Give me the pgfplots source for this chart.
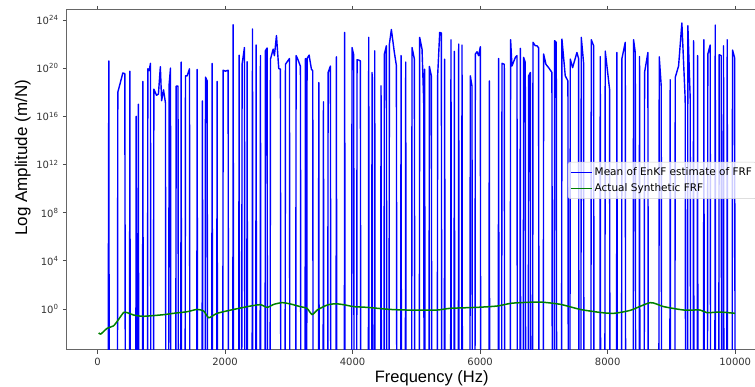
\documentclass[border=0pt]{standalone}
\usepackage{pgfplots}
\usepackage{pgfplotstable}
\pgfplotsset{compat=1.18}
\usepackage{fontspec}
\setmainfont{DejaVu Sans}
\newfontfamily\labelfont{Liberation Sans}
\definecolor{mplblue}{RGB}{0,0,255}
\definecolor{mplgreen}{RGB}{0,128,0}

% Mean of the EnKF estimate (values far below the axis are drawn as 1e-10)
\pgfplotstableread{
f v
165 1e-10
177 4.0e20
183 1e-10
312 1e-10
318 1.0e18
397 4.0e19
428 3.5e19
436 1e-10
501 1e-10
507 5.6e19
513 1e-10
600 1e-10
606 1.0e16
614 1e-10
634 1e-10
640 1.0e17
646 1e-10
705 1e-10
711 7.9e18
717 1e-10
783 1e-10
789 8.9e19
810 6.3e19
830 2.5e20
836 1e-10
877 1e-10
883 1.8e18
925 5.6e17
955 7.1e17
985 1.3e20
1005 2.0e17
1035 1.6e18
1065 1.3e17
1071 1e-10
1116 1e-10
1122 4.0e18
1144 1.0e20
1150 1e-10
1227 1e-10
1233 3.2e18
1262 3.2e18
1268 1e-10
1305 1e-10
1311 3.2e20
1317 1e-10
1373 1e-10
1379 2.3e19
1405 2.3e19
1442 8.9e19
1448 1e-10
1556 1e-10
1562 7.9e19
1568 1e-10
1639 1e-10
1645 1.9e17
1651 1e-10
1687 1e-10
1693 1.8e19
1719 8.9e18
1725 1e-10
1791 1e-10
1797 2.5e20
1803 1e-10
1869 1e-10
1875 7.9e18
1881 1e-10
1964 1e-10
1970 6.8e19
2006 5.6e19
2048 6.8e19
2054 1e-10
2121 1e-10
2127 4.0e23
2133 1e-10
2214 1e-10
2220 1.2e21
2226 1e-10
2261 1e-10
2267 2.1e20
2304 5.2e21
2310 1e-10
2340 1e-10
2346 3.4e20
2352 1e-10
2424 1e-10
2430 1.8e23
2436 1e-10
2481 1e-10
2487 8.3e21
2493 1e-10
2549 1e-10
2555 1.1e21
2561 1e-10
2627 1e-10
2633 2.8e21
2659 4.7e21
2665 1e-10
2706 1e-10
2712 5.6e20
2754 3.8e21
2774 1.1e21
2806 5.0e22
2842 9.3e19
2868 8.3e19
2874 1e-10
2941 1e-10
2947 2.1e20
3010 6.3e20
3016 1e-10
3108 1e-10
3114 1.1e21
3140 5.6e20
3182 1.4e20
3188 1e-10
3254 1e-10
3260 6.3e20
3266 1e-10
3280 1e-10
3286 6.3e20
3318 1.2e21
3354 8.3e19
3375 6.0e19
3381 1e-10
3464 1e-10
3470 6.3e18
3476 1e-10
3537 1e-10
3543 1.6e17
3549 1e-10
3610 1e-10
3616 4.4e19
3652 1.5e20
3658 1e-10
3740 1e-10
3746 8.7e20
3752 1e-10
3870 1e-10
3876 9.3e22
3882 1e-10
3985 1e-10
3991 5.2e21
4017 1.3e21
4023 1e-10
4064 1e-10
4070 5.0e20
4096 4.7e20
4122 4.0e20
4128 1e-10
4247 1e-10
4253 3.6e22
4259 1e-10
4299 1e-10
4305 4.4e19
4311 1e-10
4341 1e-10
4347 2.8e21
4353 1e-10
4440 1e-10
4446 3.4e18
4452 1e-10
4492 1e-10
4498 1.5e21
4530 7.2e21
4536 1e-10
4571 1e-10
4577 1.0e22
4608 1.6e23
4655 2.0e21
4687 1.6e20
4693 1e-10
4754 1e-10
4760 1.1e21
4766 1e-10
4827 1e-10
4833 3.2e20
4839 1e-10
4926 1e-10
4932 5.2e21
4969 5.6e20
4975 1e-10
5046 1e-10
5052 3.6e22
5089 3.8e21
5115 1.9e17
5121 1e-10
5124 1e-10
5130 8.3e19
5136 1e-10
5198 1e-10
5204 1.4e20
5235 2.3e19
5241 1e-10
5328 1e-10
5334 2.3e19
5366 9.3e22
5392 8.3e22
5398 1e-10
5438 1e-10
5444 5.6e20
5450 1e-10
5537 1e-10
5543 2.3e22
5549 1e-10
5590 1e-10
5596 2.5e21
5602 1e-10
5658 1e-10
5664 1.0e22
5670 1e-10
5710 1e-10
5716 8.3e21
5722 1e-10
5840 1e-10
5846 2.3e19
5872 3.4e18
5878 1e-10
5919 1e-10
5925 1.5e21
5951 2.3e21
5977 1.1e21
6003 6.0e21
6009 1e-10
6138 1e-10
6144 8.7e18
6150 1e-10
6284 1e-10
6290 6.3e20
6296 1e-10
6337 1e-10
6343 2.5e20
6379 2.1e20
6385 1e-10
6472 1e-10
6478 2.3e22
6499 1.5e20
6552 7.8e20
6578 1.1e21
6584 1e-10
6624 1e-10
6630 4.4e21
6636 1e-10
6676 1e-10
6682 7.8e20
6708 3.0e20
6714 1e-10
6755 1e-10
6761 2.3e19
6787 4.4e19
6793 1e-10
6823 1e-10
6829 1.4e22
6865 7.2e21
6891 7.2e21
6917 5.0e21
6923 1e-10
6990 1e-10
6996 1.5e21
7032 2.1e20
7074 1.1e20
7126 4.4e19
7132 1e-10
7162 1e-10
7168 1.9e22
7194 1.4e22
7200 1e-10
7277 1e-10
7283 2.6e22
7335 2.3e19
7377 8.7e18
7383 1e-10
7408 1e-10
7414 5.6e20
7450 1.1e20
7518 2.0e21
7544 6.3e20
7550 1e-10
7580 1e-10
7586 3.6e22
7622 3.0e20
7628 1e-10
7737 1e-10
7743 2.3e22
7780 7.2e21
7786 1e-10
7878 1e-10
7884 9.3e20
7890 1e-10
7956 1e-10
7962 2.6e21
8030 1.8e18
8036 1e-10
8139 1e-10
8145 2.0e21
8151 1e-10
8218 1e-10
8224 6.3e20
8276 1.4e22
8282 1e-10
8400 1e-10
8406 2.3e22
8433 2.0e21
8439 1e-10
8494 1e-10
8500 9.3e20
8506 1e-10
8573 1e-10
8579 4.4e19
8631 2.0e21
8637 1e-10
8803 1e-10
8809 8.7e20
8840 3.4e18
8846 1e-10
8975 1e-10
8981 1.1e19
8987 1e-10
9054 1e-10
9060 1.7e19
9112 1.5e20
9164 5.6e23
9216 2.6e17
9222 1e-10
9252 1e-10
9258 3.4e23
9295 2.6e17
9301 1e-10
9341 1e-10
9347 1.9e22
9353 1e-10
9404 1e-10
9410 1.1e21
9416 1e-10
9503 1e-10
9509 2.3e22
9515 1e-10
9565 1e-10
9571 1.5e21
9608 8.3e21
9614 1e-10
9681 1e-10
9687 3.8e23
9693 1e-10
9743 1e-10
9749 1.3e21
9781 1.1e21
9787 1e-10
9811 1e-10
9817 7.2e21
9823 1e-10
9869 1e-10
9875 2.3e22
9881 1e-10
9952 1e-10
9958 3.2e21
9990 7.8e20
10000 1e-10
}\enkfmean

% Synthetic (true) FRF magnitude
\pgfplotstableread{
f v
20 0.0107
50 0.0083
150 0.025
250 0.040
330 0.138
410 0.52
465 0.50
565 0.32
720 0.25
1035 0.34
1190 0.44
1405 0.60
1560 0.93
1665 0.68
1745 0.19
1875 0.44
2135 0.93
2400 1.78
2555 2.29
2660 1.38
2765 2.45
2895 3.39
3025 2.63
3180 1.58
3285 1.15
3365 0.35
3445 0.83
3600 2.14
3730 2.75
3860 2.29
4020 1.58
4225 1.38
4590 0.93
4855 0.83
5325 0.83
5530 1.15
5950 1.38
6265 1.78
6475 2.95
6630 3.39
6945 3.80
7260 2.45
7570 0.93
7885 0.52
8095 0.44
8355 0.78
8670 3.39
8880 1.58
9195 0.83
9450 0.83
9555 0.50
9765 0.56
10000 0.44
}\synthfrf

\begin{document}
\begin{tikzpicture}
\begin{axis}[
  at={(0pt,0pt)}, anchor=south west,
  scale only axis, width=700pt, height=340pt,
  xmin=-479, xmax=10499,
  ymode=log, ymin=3.98e-4, ymax=6.76e24,
  xtick={0,2000,4000,6000,8000,10000},
  ytick={1,1e4,1e8,1e12,1e16,1e20,1e24},
  yticklabels={10\textsuperscript{0},10\textsuperscript{4},10\textsuperscript{8},10\textsuperscript{12},10\textsuperscript{16},10\textsuperscript{20},10\textsuperscript{24}},
  yminorticks=false, xminorticks=false,
  /pgf/number format/assume math mode=true,
  /pgf/number format/1000 sep={},
  scaled x ticks=false,
  tick align=outside, major tick length=4pt,
  tick style={black!70, line width=0.8pt},
  axis line style={black!60, line width=1pt},
  ticklabel style={font=\fontsize{10}{12}\selectfont, text=black!80},
  xticklabel style={yshift=-1pt},
  yticklabel style={xshift=-1pt},
  xlabel={\labelfont Frequency (Hz)},
  ylabel={\labelfont Log Amplitude (m/N)},
  xlabel style={at={(axis description cs:0.521,-0.0970)}, anchor=base, font=\fontsize{16.5}{18}\selectfont},
  ylabel style={at={(axis description cs:-0.0571,0.565)}, anchor=base, font=\fontsize{17}{19}\selectfont},
  legend style={at={(axis description cs:0.7157,0.553)}, anchor=north west,
    draw=black!20, fill=white, fill opacity=0.8, text opacity=1,
    rounded corners=2pt, font=\fontsize{10.5}{12.5}\selectfont,
    inner xsep=2pt, inner ysep=3.5pt, row sep=2.5pt},
  legend cell align=left,
  legend image code/.code={\draw[#1, line width=1.5pt] (0pt,0pt) -- (21pt,0pt);},
]
\addplot[mplblue, line width=1.4pt, line join=round] table[x=f, y=v] {\enkfmean};
\addlegendentry{Mean of EnKF estimate of FRF}
\addplot[mplgreen, line width=1.5pt, smooth, tension=0.4] table[x=f, y=v] {\synthfrf};
\addlegendentry{Actual Synthetic FRF}
\end{axis}
\pgfresetboundingbox
\path[use as bounding box] (-67pt,-37pt) rectangle (688pt,350pt);
\end{tikzpicture}
\end{document}
